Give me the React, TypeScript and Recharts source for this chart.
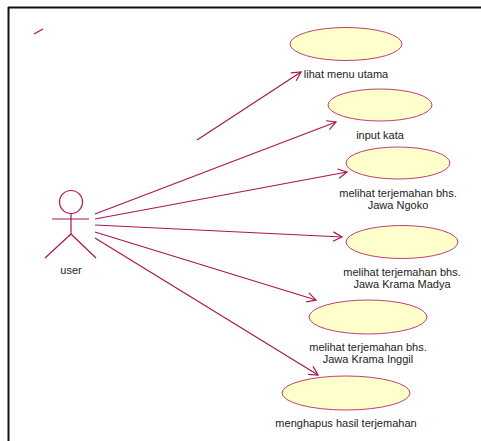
import React from 'react';
import { ScatterChart, Scatter, XAxis, YAxis, ReferenceLine } from 'recharts';

// Use cases (diagram coordinates)
const useCaseLabels: string[][] = [
  ['lihat menu utama'],
  ['input kata'],
  ['melihat terjemahan bhs.', 'Jawa Ngoko'],
  ['melihat terjemahan bhs.', 'Jawa Krama Madya'],
  ['melihat terjemahan bhs.', 'Jawa Krama Inggil'],
  ['menghapus hasil terjemahan'],
];
const useCaseX = [346, 380, 398, 402, 368, 346];
const useCaseY = [44, 105, 163, 242, 317, 393];
const ellipseRx = [56, 52, 52, 56, 59, 64];
const ellipseRy = [16.5, 16, 16, 16.5, 17, 17];

// Associations: actor -> use case
const assocStartX = [197, 95, 95, 95, 95, 95];
const assocStartY = [140, 214, 219, 225, 232, 238];
const assocEndX = [301, 336, 347, 342, 316, 318];
const assocEndY = [72, 122, 172, 237, 300, 375];

// Actor
const actorName = 'user';
const actorX = 71;
const actorY = 202;

// stray mark
const strayX = [34, 43];
const strayY = [34, 29];

const W = 481;
const H = 441;
const LINE = '#a8174f';
const ELL_STROKE = '#c0406a';
const ELL_FILL = '#ffffcc';
const TEXT = '#222';
const FONT = '"Liberation Sans", Arial, sans-serif';

const useCaseData = useCaseX.map((x, i) => ({
  x,
  y: useCaseY[i],
  rx: ellipseRx[i],
  ry: ellipseRy[i],
  label: useCaseLabels[i],
}));

const arrowData = assocEndX.map((x, i) => ({
  x,
  y: assocEndY[i],
  dx: x - assocStartX[i],
  dy: assocEndY[i] - assocStartY[i],
}));

const actorData = [{ x: actorX, y: actorY, name: actorName }];

const UseCaseShape = (props: any) => {
  const { cx, cy, payload } = props;
  const lines: string[] = payload.label;
  return (
    <g>
      <ellipse cx={cx} cy={cy} rx={payload.rx} ry={payload.ry} fill={ELL_FILL} stroke={ELL_STROKE} strokeWidth={1} />
      {lines.map((t, j) => (
        <text
          key={j}
          x={cx}
          y={cy + 34 + j * 11.5}
          textAnchor="middle"
          fontFamily={FONT}
          fontSize={11}
          fill={TEXT}
        >
          {t}
        </text>
      ))}
    </g>
  );
};

const ArrowShape = (props: any) => {
  const { cx, cy, payload } = props;
  const ang = Math.atan2(payload.dy, payload.dx);
  const len = 10;
  const spread = (28 * Math.PI) / 180;
  const p1x = cx - len * Math.cos(ang - spread);
  const p1y = cy - len * Math.sin(ang - spread);
  const p2x = cx - len * Math.cos(ang + spread);
  const p2y = cy - len * Math.sin(ang + spread);
  return (
    <path d={`M${p1x},${p1y} L${cx},${cy} L${p2x},${p2y}`} fill="none" stroke={LINE} strokeWidth={1.2} />
  );
};

const ActorShape = (props: any) => {
  const { cx, cy, payload } = props;
  const r = 11.5;
  return (
    <g stroke={LINE} strokeWidth={1.2} fill="none">
      <circle cx={cx} cy={cy} r={r} />
      <line x1={cx} y1={cy + r} x2={cx} y2={cy + 32} />
      <line x1={cx - 19} y1={cy + 17} x2={cx + 18} y2={cy + 17} />
      <line x1={cx} y1={cy + 32} x2={cx - 26} y2={cy + 56} />
      <line x1={cx} y1={cy + 32} x2={cx + 25} y2={cy + 56} />
      <text
        x={cx}
        y={cy + 72}
        textAnchor="middle"
        fontFamily={FONT}
        fontSize={11}
        fill={TEXT}
        stroke="none"
      >
        {payload.name}
      </text>
    </g>
  );
};

export default function App() {
  return (
    <div style={{ position: 'absolute', left: 0, top: 0, width: W, height: H, background: '#fff' }}>
      <ScatterChart width={W} height={H} margin={{ top: 0, right: 0, bottom: 0, left: 0 }}>
        <XAxis type="number" dataKey="x" domain={[0, W]} hide allowDataOverflow />
        <YAxis type="number" dataKey="y" domain={[0, H]} reversed hide allowDataOverflow />
        {/* frame */}
        <ReferenceLine segment={[{ x: 8, y: 7.5 }, { x: W, y: 7.5 }]} stroke="#111" strokeWidth={2} ifOverflow="visible" />
        <ReferenceLine segment={[{ x: 8.5, y: 7 }, { x: 8.5, y: H }]} stroke="#111" strokeWidth={2} ifOverflow="visible" />
        {/* stray mark */}
        <ReferenceLine segment={[{ x: strayX[0], y: strayY[0] }, { x: strayX[1], y: strayY[1] }]} stroke={LINE} strokeWidth={1.2} ifOverflow="visible" />
        {/* associations */}
        {assocStartX.map((sx, i) => (
          <ReferenceLine
            key={i}
            segment={[{ x: sx, y: assocStartY[i] }, { x: assocEndX[i], y: assocEndY[i] }]}
            stroke={LINE}
            strokeWidth={1.2}
            ifOverflow="visible"
          />
        ))}
        <Scatter data={useCaseData} shape={UseCaseShape} isAnimationActive={false} />
        <Scatter data={arrowData} shape={ArrowShape} isAnimationActive={false} />
        <Scatter data={actorData} shape={ActorShape} isAnimationActive={false} />
      </ScatterChart>
    </div>
  );
}
